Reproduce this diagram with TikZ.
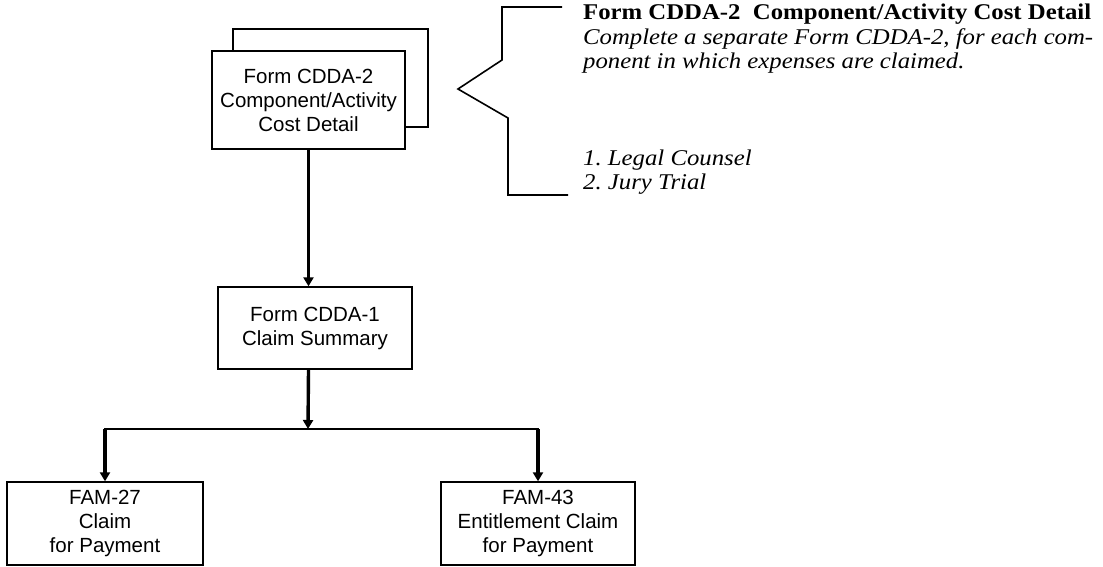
\documentclass[tikz,border=0pt]{standalone}
\usepackage{fontspec}
\setmainfont{Liberation Serif}[FakeStretch=1.1]
\setsansfont{Liberation Sans}
\usetikzlibrary{arrows.meta}
\begin{document}
\frenchspacing
\begin{tikzpicture}[x=1pt,y=-1pt,
  formbox/.style={draw, line width=1.4pt, fill=white, align=center, inner sep=0pt,
    font=\sffamily\fontsize{20.5}{24}\selectfont},
  flow/.style={line width=3.4pt, -{Triangle[length=9pt,width=10pt]}},
  busline/.style={line width=2.8pt, line cap=rect},
  bracket/.style={line width=1.6pt, line join=miter},
  rtitle/.style={anchor=base west, inner sep=0pt, font=\bfseries\fontsize{22.5}{24}\selectfont},
  rtext/.style={anchor=base west, inner sep=0pt, font=\itshape\fontsize{22.5}{24}\selectfont}]
\useasboundingbox (0,0) rectangle (1103,567);

% CDDA-2 stacked forms
\node[formbox, minimum width=195pt, minimum height=98pt] (cd2back) at (330.5,78) {};
\node[formbox, minimum width=193pt, minimum height=98pt] (cd2) at (308.5,100)
  {Form CDDA-2\\Component/Activity\\Cost Detail};

% CDDA-1
\node[formbox, minimum width=194pt, minimum height=82pt] (cd1) at (315,328)
  {Form CDDA-1\\Claim Summary};

% FAM boxes
\node[formbox, minimum width=196pt, minimum height=83pt] (fam27) at (105,523.5)
  {FAM-27\\Claim\\for Payment};
\node[formbox, minimum width=194pt, minimum height=83pt] (fam43) at (538,523.5)
  {FAM-43\\Entitlement Claim\\for Payment};

% connectors
\coordinate (junc) at (308,429);
\draw[flow] (cd2.south) -- (cd2.south |- cd1.north);
\draw[flow] (cd2.south |- cd1.south) -- (junc);
\draw[busline] (fam27.north |- junc) -- (fam43.north |- junc);
\draw[flow] (fam27.north |- junc) -- (fam27.north);
\draw[flow] (fam43.north |- junc) -- (fam43.north);

% bracket
\draw[bracket] (562,7) -- (502,7) -- (502,60) -- (458,89) -- (508,118) -- (508,195) -- (568,195);

% description text
\node[rtitle] (t1) at (583,20) {Form CDDA-2\ \ Component/Activity Cost Detail};
\node[rtext] (t2) at (583,44.5) {Complete a separate Form CDDA-2, for each com-};
\node[rtext] (t3) at (583,69) {ponent in which expenses are claimed.};
\node[rtext] (l1) at (583,165) {1. Legal Counsel};
\node[rtext] (l2) at (583,189.5) {2. Jury Trial};
\end{tikzpicture}
\end{document}
